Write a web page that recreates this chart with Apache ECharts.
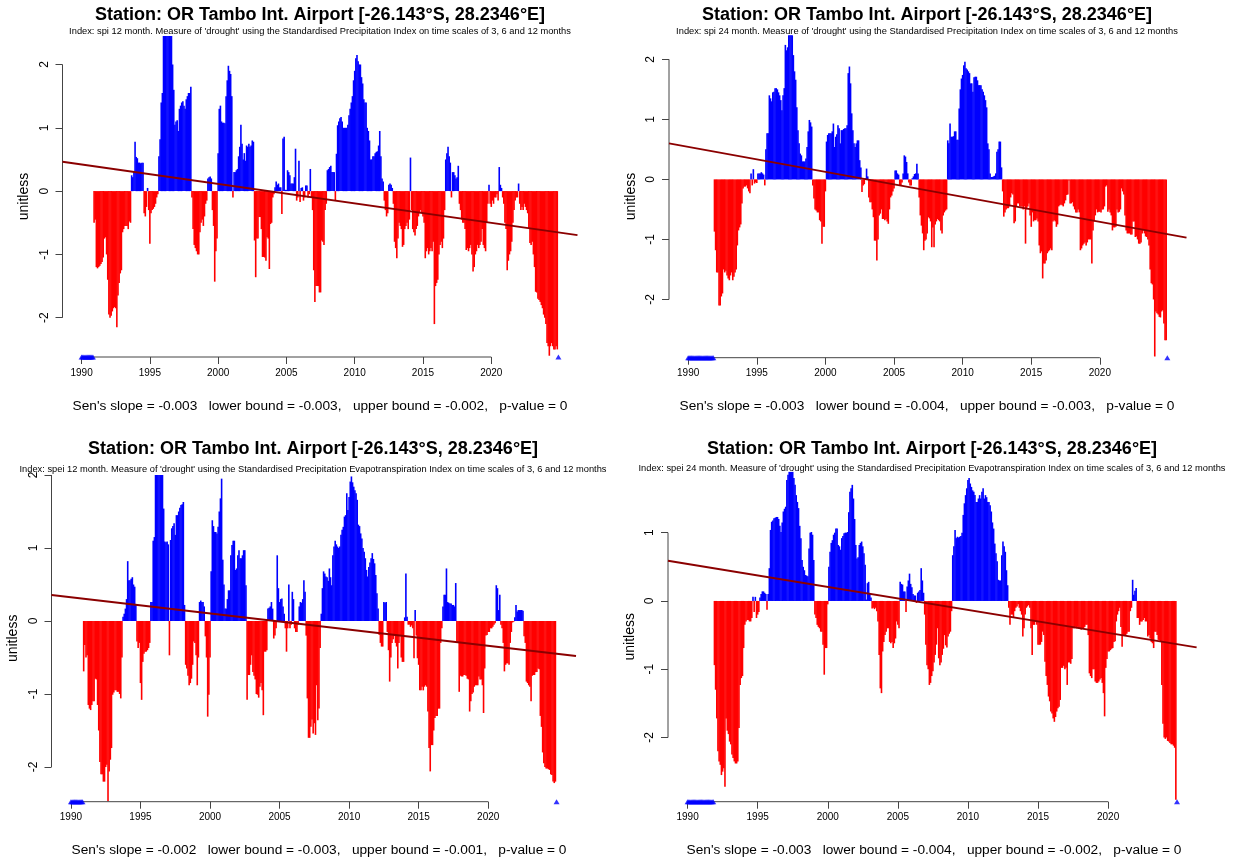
<!DOCTYPE html>
<html>
<head>
<meta charset="utf-8">
<script src="https://cdn.jsdelivr.net/npm/echarts@6/dist/echarts.min.js"></script>
<style>
  html, body { margin: 0; padding: 0; background: #fff; }
  #chart { width: 1240px; height: 863px; }
</style>
</head>
<body>
<div id="chart"></div>
<script>
// monthly values, one row per year, first row = 1990 (null = not available)
const startYear = 1990
const yearTicks = [1990, 1995, 2000, 2005, 2010, 2015, 2020]

const spi12 = [
  null, null, null, null, null, null, null, null, null, null, null, -0.5,
  -0.45, -1.2, -1.22, -1.2, -1.18, -1.15, -1.12, -1.05, -0.75, -0.73, -1.0, -1.4,
  -1.95, -2.0, -1.97, -1.9, -1.85, -1.83, -1.85, -2.15, -1.65, -1.45, -1.3, -1.25,
  -0.65, -0.6, -0.55, -0.55, -0.55, -0.6, -0.48, -0.5, 0.25, 0.22, 0.3, 0.78,
  0.54, 0.52, 0.45, 0.45, 0.44, 0.45, 0.45, -0.35, -0.4, -0.25, 0.05, -0.3,
  -0.83, -0.35, -0.3, -0.28, -0.25, -0.2, -0.1, -0.05, 0.55, 0.82, 1.4, 1.55,
  2.5, 2.6, 2.7, 2.5, 2.55, 2.6, 2.5, 2.45, 2.0, 1.6, 1.05, 1.1,
  1.12, 0.95, 1.3, 1.35, 1.4, 1.42, 1.35, 1.3, 1.45, 1.5, 1.55, 1.55,
  1.65, -0.1, -0.6, -0.85, -0.9, -0.95, -1.0, -1.0, -0.65, -0.5, -0.45, -0.55,
  -0.4, -0.2, -0.15, 0.2, 0.22, 0.23, 0.2, -0.3, -0.55, -1.43, -0.95, -0.75,
  0.6, 1.3, 1.35, 1.1, 1.08, 1.08, 1.07, 1.5, 1.75, 1.98, 1.9, 1.85,
  1.5, -0.1, 0.3, 0.3, 0.33, 0.35, 0.55, 0.7, 1.05, 0.75, 0.5, 0.6,
  0.48, 0.72, 0.7, 0.75, 0.7, 0.72, 0.8, 0.78, -0.78, -1.36, -0.75, -0.75,
  -0.41, -0.41, -0.6, -1.04, -1.04, -1.05, -1.1, -0.73, -0.75, -1.23, -0.52, -0.5,
  -0.1, -0.05, 0.06, 0.15, 0.1, 0.12, 0.06, 0.06, -0.36, 0.83, 0.86, 0.02,
  0.02, 0.33, 0.3, 0.25, 0.12, 0.12, 0.12, 0.22, 0.67, -0.15, -0.1, 0.48,
  -0.17, 0.05, 0.06, -0.15, -0.1, 0.09, 0.09, -0.1, -0.05, 0.35, -0.1, -0.3,
  -1.25, -1.75, -1.5, -1.5, -1.5, -1.6, -1.6, -0.78, -0.8, -0.85, -0.3, -0.2,
  0.33, 0.35, 0.38, 0.4, 0.3, 0.3, 0.3, -0.15, 0.59, 1.04, 1.1, 1.15,
  1.17, 1.1, 1.0, 1.0, 1.0, 1.0, 1.05, 1.2, 1.3, 1.4, 1.5, 1.75,
  1.9, 2.1, 2.15, 2.05, 2.0, 2.0, 1.8, 1.7, 1.45, 1.4, 1.4, 1.0,
  0.95, 0.8, 0.5, 0.5, 0.55, 0.55, 0.6, 0.62, 0.63, 0.72, 0.95, 0.55,
  0.2, 0.15, -0.15, -0.3, -0.4, -0.35, 0.1, 0.12, 0.1, 0.05, -0.2, -0.8,
  -0.9, -1.06, -0.75, -0.5, -0.55, -0.6, -0.88, -0.85, -0.6, -0.55, -0.5, -0.6,
  -0.45, 0.53, -0.3, -0.6, -0.65, -0.7, -0.6, -0.55, -0.4, -0.35, -0.3, -0.35,
  -0.4, -0.5, -1.06, -0.95, -0.9, -1.0, -0.95, -0.9, -0.95, -0.8, -2.1, -1.5,
  -1.45, -1.4, -1.0, -0.85, -0.8, -0.9, -0.75, -0.3, 0.5, 0.6, 0.7, 0.55,
  0.45, -0.1, 0.3, 0.3, 0.25, 0.2, 0.22, 0.4, -0.2, -0.3, -0.45, -0.5,
  -0.5, -0.6, -0.93, -0.9, -0.95, -0.9, -0.85, -1.0, -1.27, -1.2, -1.0, -0.95,
  -0.85, -0.9, -0.85, -0.8, -0.6, -0.85, -0.9, -0.95, -0.5, -0.2, 0.1, -0.2,
  -0.25, -0.15, -0.2, -0.1, -0.1, -0.05, -0.15, 0.38, 0.1, 0.05, -0.1, -0.2,
  -0.5, -0.6, -1.25, -1.1, -1.0, -0.95, -0.8, -0.5, -0.3, -0.15, -0.1, -0.1,
  0.12, -0.2, -0.3, -0.25, -0.3, -0.2, -0.25, -0.3, -0.35, -0.6, -0.82, -0.85,
  -0.8, -1.0, -1.2, -1.59, -1.6, -1.7, -1.72, -1.75, -1.8, -1.85, -1.95, -2.0,
  -2.1, -2.4, -2.45, -2.6, -2.45, -2.4, -2.45, -2.5, -2.5, -2.45, -2.5, null
]

const spi24 = [
  null, null, null, null, null, null, null, null, null, null, null, null,
  null, null, null, null, null, null, null, null, null, null, null, -0.87,
  -1.18, -1.55, -1.55, -2.1, -2.1, -1.95, -1.9, -1.5, -1.55, -1.52, -1.6, -1.65,
  -1.68, -1.6, -1.55, -1.68, -1.62, -1.55, -1.5, -1.1, -0.85, -0.8, -0.75, -0.4,
  -0.15, -0.12, -0.12, -0.1, -0.15, -0.2, -0.23, 0.1, -0.1, 0.17, -0.07, -0.05,
  -0.06, 0.1, 0.1, 0.1, 0.12, 0.1, 0.08, -0.1, 0.5, 0.77, 0.77, 1.4,
  1.35, 1.3, 1.45, 1.46, 1.52, 1.52, 1.5, 1.45, 1.4, 1.32, 1.15, 1.4,
  1.52, 2.24, 2.15, 2.2, 2.4, 2.45, 2.45, 2.4, 2.07, 1.8, 1.66, 1.2,
  0.82, 0.6, 0.43, 0.4, 0.3, 0.3, 0.3, 0.35, 0.54, 0.8, 0.99, 0.95,
  0.88, -0.1, -0.32, -0.5, -0.52, -0.55, -0.55, -0.68, -0.7, -1.07, -0.79, -0.79,
  -0.2, 0.63, 0.74, 0.77, 0.77, 0.77, 0.8, 0.93, 0.54, 0.71, 0.75, 0.9,
  0.85, 0.6, 0.82, 0.82, 0.84, 0.85, 0.85, 0.9, 1.77, 1.88, 1.6, 1.1,
  0.82, 0.6, 0.54, 0.6, 0.65, 0.65, 0.32, 0.2, -0.21, -0.1, -0.08, 0.02,
  0.18, 0.05, -0.3, -0.38, -0.38, -0.5, -0.63, -1.02, -1.02, -1.35, -1.0, -0.6,
  -0.57, -0.5, -0.66, -0.66, -0.68, -0.66, -0.7, -0.74, -0.5, -0.3, -0.27, -0.2,
  -0.15, 0.15, 0.15, 0.1, 0.08, -0.1, -0.1, -0.05, 0.1, 0.4, 0.38, 0.29,
  0.1, -0.05, -0.1, -0.1, 0.02, 0.05, 0.09, 0.1, 0.26, 0.1, -0.3, -0.6,
  -0.77, -0.9, -1.18, -1.02, -1.0, -0.9, -0.63, -0.65, -0.7, -1.13, -0.8, -1.13,
  -0.75, -0.7, -0.66, -0.68, -0.7, -0.85, -0.9, -0.6, -0.55, -0.52, -0.5, 0.65,
  0.6, 0.93, 0.71, 0.71, 0.72, 0.8, 0.8, 0.66, 0.66, 1.18, 1.5, 1.68,
  1.74, 1.9, 1.96, 1.85, 1.83, 1.8, 1.77, 1.6, 1.6, 1.46, 1.7, 1.71,
  1.71, 1.65, 1.57, 1.57, 1.57, 1.5, 1.46, 1.4, 1.32, 1.2, 0.6, 0.5,
  0.1, 0.04, 0.04, 0.05, 0.06, 0.1, 0.46, 0.5, 0.63, 0.63, 0.2, -0.2,
  -0.62, -0.55, -0.5, -0.48, -0.48, -0.45, -0.3, -0.23, -0.25, -0.73, -0.7, -0.45,
  -0.4, -0.4, -0.45, -0.45, -0.45, -0.5, -0.45, -1.07, -0.5, -0.45, -0.4, -0.6,
  -0.79, -0.55, -0.7, -0.68, -0.68, -0.65, -0.7, -1.1, -1.23, -1.2, -1.65, -1.4,
  -1.4, -1.35, -1.23, -1.2, -1.18, -1.15, -1.18, -0.7, -0.68, -0.7, -0.79, -0.75,
  -0.45, -0.43, -0.42, -0.43, -0.45, -0.4, -0.35, -0.26, -0.25, -0.02, -0.4, -0.4,
  -0.38, -0.45, -0.5, -0.55, -0.55, -0.5, -0.55, -1.18, -1.15, -1.1, -1.07, -1.05,
  -1.1, -1.05, -1.0, -1.0, -1.0, -1.4, -0.85, -0.7, -0.6, -0.5, -0.55, -0.54,
  -0.54, -0.55, -0.5, -0.5, -0.45, -0.12, -0.1, -0.54, -0.5, -0.55, -0.6, -0.85,
  -0.8, -0.8, -0.79, -0.5, -0.55, -0.54, -0.5, -0.15, -0.2, -0.25, -0.6, -0.85,
  -0.9, -0.9, -0.9, -0.92, -0.92, -0.7, -0.7, -0.96, -0.95, -1.0, -1.07, -1.07,
  -1.05, -0.9, -0.85, -0.9, -0.95, -0.96, -1.0, -1.1, -1.5, -1.73, -1.75, -2.0,
  -2.95, -2.2, -2.23, -2.25, -2.29, -2.3, -2.2, -2.18, -2.4, -2.68, -2.68, null
]

const spei12 = [
  null, null, null, null, null, null, null, null, null, null, null, -0.69,
  -0.33, -0.5, -0.47, -1.15, -1.2, -1.22, -1.15, -1.1, -1.1, -0.79, -0.8, -1.15,
  -1.5, -1.93, -2.1, -2.1, -2.2, -2.2, -2.0, -1.97, -2.47, -2.06, -1.9, -1.74,
  -1.01, -0.98, -0.95, -0.95, -0.97, -0.97, -1.0, -1.06, -0.5, 0.06, 0.1, 0.17,
  0.3, 0.82, 0.56, 0.56, 0.58, 0.6, 0.5, 0.47, 0.22, -0.28, -0.37, -0.3,
  -0.85, -1.08, -0.56, -0.45, -0.42, -0.42, -0.4, -0.37, -0.3, 0.26, 0.26, 1.1,
  1.15, 2.1, 2.1, 2.1, 2.1, 2.1, 2.05, 2.0, 1.54, 1.09, 1.08, 1.09,
  1.05, -0.47, 1.11, 1.27, 1.3, 1.34, 1.18, 1.45, 1.45, 1.5, 1.55, 1.59,
  1.6, 1.63, 0.22, -0.6, -0.65, -0.75, -0.88, -0.85, -0.79, -0.6, -0.28, -0.3,
  -0.47, -0.88, -0.5, 0.26, 0.28, 0.26, 0.26, 0.2, -0.21, -0.5, -1.31, -1.01,
  -0.5, 0.68, 1.38, 1.3, 1.22, 1.22, 1.2, 1.29, 1.5, 1.68, 1.95, 0.84,
  0.5, 0.17, 0.17, 0.3, 0.42, 0.42, 0.9, 1.04, 1.1, 1.1, 0.7, 0.72,
  0.9, 0.97, 0.86, 0.86, 0.9, 0.97, 0.97, 0.49, -1.08, -0.74, -0.74, -0.6,
  -0.47, -0.7, -0.75, -0.8, -1.0, -1.01, -1.05, -0.9, -0.85, -0.95, -1.29, -0.42,
  -0.42, -0.4, 0.17, 0.18, 0.2, 0.26, 0.17, -0.24, -0.2, -0.1, 0.9, 0.45,
  0.26, 0.3, 0.31, 0.2, 0.1, -0.1, -0.42, -0.1, 0.5, -0.1, -0.05, 0.4,
  0.3, -0.1, -0.15, -0.15, -0.05, 0.2, 0.26, 0.25, 0.3, 0.56, 0.4, -0.2,
  -1.06, -1.6, -1.6, -1.45, -1.35, -1.54, -1.4, -1.56, -0.88, -1.36, -1.2, -0.37,
  0.1, 0.45, 0.68, 0.65, 0.61, 0.6, 0.55, 0.72, 0.6, 0.49, 0.9, 1.02,
  1.1, 1.05, 1.02, 1.0, 1.02, 1.18, 1.25, 1.29, 1.43, 1.45, 1.75, 1.52,
  1.7, 1.91, 1.98, 1.9, 1.84, 1.79, 1.75, 1.66, 1.32, 1.3, 1.2, 1.13,
  1.0, 0.95, 0.86, 0.7, 0.61, 0.74, 0.8, 0.86, 0.93, 0.85, 0.79, 0.63,
  0.38, 0.17, -0.19, -0.3, -0.35, -0.35, 0.26, 0.25, 0.26, -0.15, -0.4, -0.83,
  -0.5, -0.3, -0.25, -0.2, -0.3, -0.35, -0.65, -0.3, -0.2, -0.5, -0.56, -0.56,
  0.05, 0.65, 0.06, -0.05, -0.05, -0.08, -0.06, -0.1, -0.51, 0.15, -0.2, -0.51,
  -0.6, -0.95, -0.95, -0.9, -0.95, -0.9, -0.88, -0.9, -1.24, -1.74, -2.06, -1.7,
  -1.7, -1.5, -1.33, -1.3, -1.3, -1.2, -1.2, -0.3, -0.1, 0.2, 0.36, 0.36,
  0.72, 0.26, 0.25, 0.24, 0.24, 0.22, 0.22, 0.2, 0.52, -0.28, -0.3, -0.97,
  -0.75, -0.76, -0.76, -0.74, -0.74, -0.75, -0.79, -0.8, -1.24, -1.1, -1.0, -0.98,
  -0.9, -0.88, -0.88, -0.88, -0.76, -0.8, -0.8, -0.88, -1.26, -0.65, -0.2, -0.19,
  -0.15, -0.15, -0.1, -0.1, -0.08, -0.05, -0.03, 0.49, 0.45, 0.15, 0.36, -0.05,
  -0.1, -0.3, -0.69, -0.6, -0.58, -0.58, -0.6, -0.3, -0.15, -0.02, -0.01, 0.05,
  0.22, 0.13, 0.15, 0.15, 0.15, 0.15, 0.14, -0.21, -0.3, -0.83, -0.85, -0.88,
  -0.9, -1.1, -0.75, -0.74, -0.74, -0.7, -0.7, -0.65, -0.66, -1.3, -1.45, -1.8,
  -1.95, -2.0, -2.02, -2.02, -2.03, -2.04, -2.1, -2.11, -2.2, -2.22, -2.2, null
]

const spei24 = [
  null, null, null, null, null, null, null, null, null, null, null, null,
  null, null, null, null, null, null, null, null, null, null, null, -0.94,
  -1.3, -1.72, -2.2, -2.35, -2.4, -2.55, -2.5, -2.45, -2.72, -1.72, -1.9, -1.95,
  -2.06, -2.1, -2.25, -2.3, -2.35, -2.38, -2.38, -2.35, -1.86, -1.23, -1.13, -1.1,
  -0.69, -0.35, -0.3, -0.28, -0.28, -0.3, -0.3, -0.25, 0.06, -0.16, 0.06, -0.25,
  -0.2, -0.16, 0.05, 0.1, 0.14, 0.14, 0.12, 0.1, -0.13, 0.1, 0.48, 1.04,
  1.16, 1.18, 1.21, 1.22, 1.23, 1.23, 1.2, 1.1, 1.01, 1.15, 1.31, 1.35,
  1.38, 1.77, 1.85, 1.95, 1.95, 1.95, 1.95, 1.8, 1.7, 1.55, 1.45, 1.36,
  1.1, 0.92, 0.6, 0.5, 0.45, 0.38, 0.37, 0.36, 0.77, 1.0, 1.01, 0.97,
  0.6, -0.2, -0.25, -0.35, -0.38, -0.4, -0.45, -0.45, -0.64, -1.08, -0.69, -0.69,
  -0.05, 0.5, 0.72, 0.85, 0.89, 0.97, 1.0, 1.06, 1.06, 0.82, 0.8, 0.75,
  0.92, 0.95, 0.99, 1.0, 1.0, 1.01, 1.3, 1.6, 1.65, 1.7, 1.5, 1.2,
  0.82, 0.62, 0.64, 0.82, 0.85, 0.87, 0.8, 0.7, 0.53, 0.02, 0.26, 0.28,
  0.1, 0.05, -0.11, -0.1, -0.12, -0.1, -0.15, -0.3, -0.79, -1.28, -1.35, -0.74,
  -0.6, -0.5, -0.45, -0.4, -0.4, -0.6, -0.62, -0.6, -0.69, -0.62, -0.55, -0.3,
  -0.35, -0.4, 0.28, 0.25, 0.24, 0.14, 0.14, -0.16, 0.21, 0.3, 0.4, 0.25,
  0.2, 0.1, 0.08, 0.08, -0.03, 0.12, 0.14, 0.16, 0.48, 0.3, 0.12, -0.2,
  -0.64, -0.94, -1.0, -1.23, -1.2, -1.1, -1.03, -0.9, -0.79, -0.64, -0.4, -0.84,
  -0.94, -0.9, -0.79, -0.7, -0.5, -0.65, -0.68, -0.52, -0.48, -0.45, -0.15, 0.67,
  0.8, 1.04, 0.92, 0.94, 0.93, 0.94, 0.95, 1.0, 1.26, 1.43, 1.55, 1.65,
  1.77, 1.8, 1.72, 1.67, 1.62, 1.6, 1.55, 1.45, 1.45, 1.5, 1.55, 1.5,
  1.6, 1.65, 1.5, 1.55, 1.52, 1.45, 1.45, 1.4, 1.31, 1.15, 1.06, 0.84,
  0.7, 0.58, 0.31, 0.3, 0.3, 0.67, 0.87, 0.8, 0.72, 0.45, 0.23, -0.1,
  -0.35, -0.2, -0.2, -0.25, -0.15, -0.1, -0.08, -0.05, -0.1, -0.15, -0.2, -0.52,
  -0.4, -0.2, -0.1, -0.08, -0.06, -0.1, -0.4, -0.79, -0.35, -0.35, -0.3, -0.35,
  -0.64, -0.64, -0.64, -0.6, -0.45, -0.5, -0.89, -1.1, -1.23, -1.4, -1.47, -1.62,
  -1.65, -1.72, -1.77, -1.7, -1.62, -1.57, -1.55, -1.45, -0.98, -0.98, -0.95, -1.0,
  -0.98, -1.23, -0.9, -0.9, -0.92, -0.85, -0.4, -0.4, -0.38, -0.4, -0.38, -0.4,
  -0.4, -0.42, -0.4, -0.4, -0.38, -0.35, -0.35, -0.5, -1.06, -1.1, -1.13, -1.0,
  -1.0, -1.18, -1.2, -1.2, -1.18, -1.15, -1.13, -1.2, -1.35, -1.69, -0.98, -0.85,
  -0.74, -0.74, -0.72, -0.7, -0.69, -0.6, -0.59, -0.3, -0.2, -0.15, -0.1, -0.38,
  -0.67, -0.5, -0.5, -0.5, -0.48, -0.45, -0.45, -0.15, -0.1, 0.31, 0.09, 0.15,
  0.19, -0.25, -0.25, -0.35, -0.3, -0.3, -0.28, -0.25, -0.3, -0.3, -0.52, -0.5,
  -0.55, -0.6, -0.62, -0.69, -0.45, -0.45, -0.5, -0.57, -0.58, -0.6, -1.23, -1.8,
  -2.0, -2.02, -2.0, -2.05, -2.06, -2.08, -2.1, -2.1, -2.12, -2.15, -2.91, null
]

// trend line (Sen's slope) value at the left and right edge of each plot
const trendSpi12 = [0.463, -0.695]
const trendSpi24 = [0.6, -0.97]
const trendSpei12 = [0.356, -0.48]
const trendSpei24 = [0.59, -0.68]

const stationTitle = 'Station: OR Tambo Int. Airport [-26.143°S, 28.2346°E]'

const fontFamily = '"Liberation Sans", Arial, sans-serif'

const panels = [
  {
    data: spi12, trend: trendSpi12,
    left: 62.5, top: 36, width: 515, height: 321,
    yMin: -2.62, yMax: 2.45, yTicks: [-2, -1, 0, 1, 2],
    cx: 320, titleY: 15, subY: 31, senX: 320, senY: 406,
    sub: "Index: spi 12 month. Measure of 'drought' using the Standardised Precipitation Index on time scales of 3, 6 and 12 months",
    sen: "Sen's slope = -0.003   lower bound = -0.003,   upper bound = -0.002,   p-value = 0"
  },
  {
    data: spi24, trend: trendSpi24,
    left: 669, top: 35.3, width: 517.5, height: 322.4,
    yMin: -2.97, yMax: 2.4, yTicks: [-2, -1, 0, 1, 2],
    cx: 927, titleY: 15, subY: 31, senX: 927, senY: 406,
    sub: "Index: spi 24 month. Measure of 'drought' using the Standardised Precipitation Index on time scales of 3, 6 and 12 months",
    sen: "Sen's slope = -0.003   lower bound = -0.004,   upper bound = -0.003,   p-value = 0"
  },
  {
    data: spei12, trend: trendSpei12,
    left: 51.5, top: 475, width: 524.5, height: 326.7,
    yMin: -2.475, yMax: 2.0, yTicks: [-2, -1, 0, 1, 2],
    cx: 313, titleY: 449, subY: 469, senX: 319, senY: 850,
    sub: "Index: spei 12 month. Measure of 'drought' using the Standardised Precipitation Evapotranspiration Index on time scales of 3, 6 and 12 months",
    sen: "Sen's slope = -0.002   lower bound = -0.003,   upper bound = -0.001,   p-value = 0"
  },
  {
    data: spei24, trend: trendSpei24,
    left: 668, top: 471.9, width: 528.6, height: 329.8,
    yMin: -2.94, yMax: 1.89, yTicks: [-2, -1, 0, 1],
    cx: 932, titleY: 449, subY: 468, senX: 934, senY: 850,
    sub: "Index: spei 24 month. Measure of 'drought' using the Standardised Precipitation Evapotranspiration Index on time scales of 3, 6 and 12 months",
    sen: "Sen's slope = -0.003   lower bound = -0.004,   upper bound = -0.002,   p-value = 0"
  }
]

// R style x range: data range extended by 4% on both sides
const monthCount = spi12.length
const span = (monthCount - 1) / 12
const xMin = startYear - span * 0.04
const xMax = startYear + span * 1.04

function monthToYear(i) {
  return startYear + i / 12
}

function textEl(x, y, text, font) {
  return {
    type: 'text', x, y, silent: true,
    style: {
      text, font, fill: '#000',
      align: 'center', verticalAlign: 'middle',
      textAlign: 'center', textVerticalAlign: 'middle'
    }
  }
}

const chart = echarts.init(document.getElementById('chart'), null, { renderer: 'canvas' })

const series = []
panels.forEach((p, k) => {
  const bars = []
  const missing = []
  p.data.forEach((v, i) => {
    if (v === null) missing.push([monthToYear(i), p.yMin])
    else bars.push([monthToYear(i), v])
  })

  series.push({
    type: 'bar', xAxisIndex: k, yAxisIndex: k,
    data: bars, barWidth: 1.6, clip: true, silent: true,
    itemStyle: { color: params => (params.value[1] >= 0 ? '#0000FF' : '#FF0000') }
  })
  // trend line
  series.push({
    type: 'line', xAxisIndex: k, yAxisIndex: k, silent: true, clip: true,
    symbol: 'none', data: [[xMin, p.trend[0]], [xMax, p.trend[1]]],
    lineStyle: { color: '#8B0000', width: 2 }, z: 5
  })
  // missing months marked on the bottom of the plot
  series.push({
    type: 'scatter', xAxisIndex: k, yAxisIndex: k, silent: true, clip: false,
    symbol: 'triangle', symbolSize: [6, 5], data: missing,
    itemStyle: { color: '#0000FF' }, z: 6
  })
  // R style axis lines, only as long as the tick range
  series.push({
    type: 'line', xAxisIndex: k, yAxisIndex: k, silent: true, clip: false,
    symbol: 'none', data: [[yearTicks[0], p.yMin], [yearTicks[yearTicks.length - 1], p.yMin]],
    lineStyle: { color: '#444', width: 1 }, z: 4
  })
  series.push({
    type: 'line', xAxisIndex: k, yAxisIndex: k, silent: true, clip: false,
    symbol: 'none', data: [[xMin, p.yTicks[0]], [xMin, p.yTicks[p.yTicks.length - 1]]],
    lineStyle: { color: '#444', width: 1 }, z: 4
  })
})

const graphic = []
panels.forEach(p => {
  graphic.push(textEl(p.cx, p.titleY, stationTitle, 'bold 18px ' + fontFamily))
  graphic.push(textEl(p.cx, p.subY, p.sub, '9.3px ' + fontFamily))
  graphic.push(textEl(p.senX, p.senY, p.sen, '13.7px ' + fontFamily))
})

const option = {
  animation: false,
  backgroundColor: '#fff',
  grid: panels.map(p => ({ left: p.left, top: p.top, width: p.width, height: p.height })),
  xAxis: panels.map((p, k) => ({
    type: 'value', gridIndex: k, min: xMin, max: xMax,
    axisLine: { show: false, onZero: false },
    axisTick: { show: true, length: 7, customValues: yearTicks, lineStyle: { color: '#444' } },
    axisLabel: {
      customValues: yearTicks, fontSize: 10, color: '#000', margin: 11, fontFamily,
      formatter: v => String(v)
    },
    splitLine: { show: false }
  })),
  yAxis: panels.map((p, k) => ({
    type: 'value', gridIndex: k, min: p.yMin, max: p.yMax,
    name: 'unitless', nameLocation: 'middle', nameGap: 31, nameRotate: 90,
    nameTextStyle: { fontSize: 14, color: '#000', fontFamily },
    axisLine: { show: false, onZero: false },
    axisTick: { show: true, length: 7, customValues: p.yTicks, lineStyle: { color: '#444' } },
    axisLabel: { customValues: p.yTicks, rotate: 90, fontSize: 12, color: '#000', margin: 12, fontFamily },
    splitLine: { show: false }
  })),
  graphic,
  series
}

chart.setOption(option)
</script>
</body>
</html>
